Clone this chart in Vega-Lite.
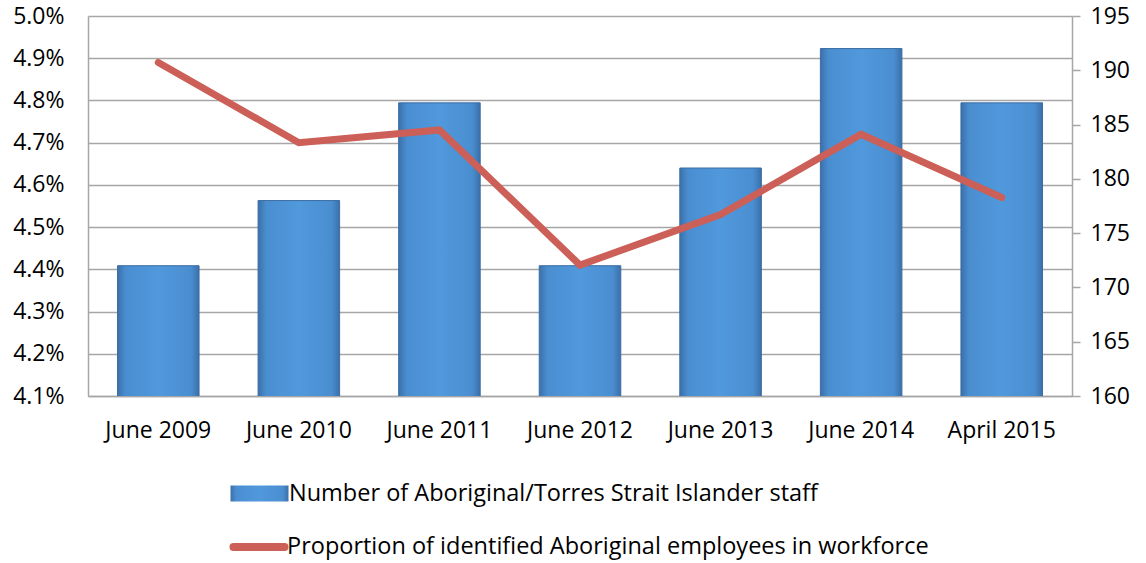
{
  "$schema": "https://vega.github.io/schema/vega-lite/v6.json",
  "width": 984,
  "height": 380,
  "autosize": {"type": "none"},
  "padding": {"left": 88, "top": 16, "right": 74, "bottom": 167},
  "background": "white",
  "config": {
    "view": {"stroke": null},
    "font": "Open Sans",
    "axis": {"labelFont": "Open Sans", "labelFontSize": 23, "labelColor": "#000000", "title": null, "domainColor": "#a6a6a6", "domainWidth": 1.5, "gridColor": "#a6a6a6", "gridWidth": 1.4, "tickColor": "#a6a6a6", "tickWidth": 1.5},
    "legend": {"orient": "none", "padding": 0, "labelFont": "Open Sans", "labelFontSize": 23.5, "labelColor": "#000000", "labelOffset": 0, "labelLimit": 0, "title": null}
  },
  "data": {
    "values": [
      {"period": "June 2009", "staff": 172, "proportion": 0.0489},
      {"period": "June 2010", "staff": 178, "proportion": 0.0470},
      {"period": "June 2011", "staff": 187, "proportion": 0.0473},
      {"period": "June 2012", "staff": 172, "proportion": 0.0441},
      {"period": "June 2013", "staff": 181, "proportion": 0.0453},
      {"period": "June 2014", "staff": 192, "proportion": 0.0472},
      {"period": "April 2015", "staff": 187, "proportion": 0.0457}
    ]
  },
  "encoding": {
    "x": {
      "field": "period",
      "type": "nominal",
      "sort": null,
      "scale": {"paddingInner": 0.42, "paddingOuter": 0.21},
      "axis": {"labelAngle": 0, "ticks": false, "labelPadding": 23}
    }
  },
  "layer": [
    {
      "mark": {
        "type": "bar",
        "clip": true,
        "stroke": "#3a6ca2",
        "strokeWidth": 1,
        "fill": {"gradient": "linear", "x1": 0, "y1": 0, "x2": 1, "y2": 0, "stops": [{"offset": 0, "color": "#3b70aa"}, {"offset": 0.1, "color": "#4a8ed0"}, {"offset": 0.5, "color": "#5099dc"}, {"offset": 0.9, "color": "#4a8ed0"}, {"offset": 1, "color": "#3b70aa"}]}
      },
      "encoding": {
        "y": {
          "field": "staff",
          "type": "quantitative",
          "scale": {"domain": [160, 195], "zero": false, "nice": false},
          "axis": {"orient": "right", "values": [160, 165, 170, 175, 180, 185, 190, 195], "grid": false, "ticks": true, "tickSize": 8, "labelPadding": 10}
        },
        "opacity": {
          "datum": "Number of Aboriginal/Torres Strait Islander staff",
          "type": "ordinal",
          "scale": {"range": [1]},
          "legend": {
            "legendX": 142,
            "legendY": 448,
            "symbolType": "M-1,-0.28H1V0.28H-1Z",
            "symbolSize": 3364,
            "symbolFillColor": "#4a8ed0",
            "symbolStrokeColor": "#3a6ca2",
            "symbolStrokeWidth": 1,
            "encode": {"symbols": {"update": {"fill": {"value": {"gradient": "linear", "x1": 0, "y1": 0, "x2": 0, "y2": 1, "stops": [{"offset": 0, "color": "#7dbdf5"}, {"offset": 0.3, "color": "#4f96da"}, {"offset": 1, "color": "#3d74b0"}]}}}}}
          }
        }
      }
    },
    {
      "mark": {"type": "line", "strokeWidth": 7, "strokeCap": "round"},
      "encoding": {
        "y": {
          "field": "proportion",
          "type": "quantitative",
          "scale": {"domain": [0.041, 0.05], "zero": false, "nice": false},
          "axis": {"orient": "left", "format": ".1%", "values": [0.041, 0.042, 0.043, 0.044, 0.045, 0.046, 0.047, 0.048, 0.049, 0.05], "grid": true, "ticks": false, "labelPadding": 24}
        },
        "stroke": {
          "datum": "Proportion of identified Aboriginal employees in workforce",
          "type": "nominal",
          "scale": {"range": ["#cc5f57"]},
          "legend": {"legendX": 138, "legendY": 498, "labelOffset": -5, "symbolType": "M-0.88,0H0.88", "symbolSize": 3364, "symbolStrokeWidth": 8, "symbolStrokeColor": "#cc5f57", "encode": {"symbols": {"update": {"strokeCap": {"value": "round"}}}}}
        }
      }
    }
  ],
  "resolve": {"scale": {"y": "independent", "opacity": "independent", "stroke": "independent"}}
}
